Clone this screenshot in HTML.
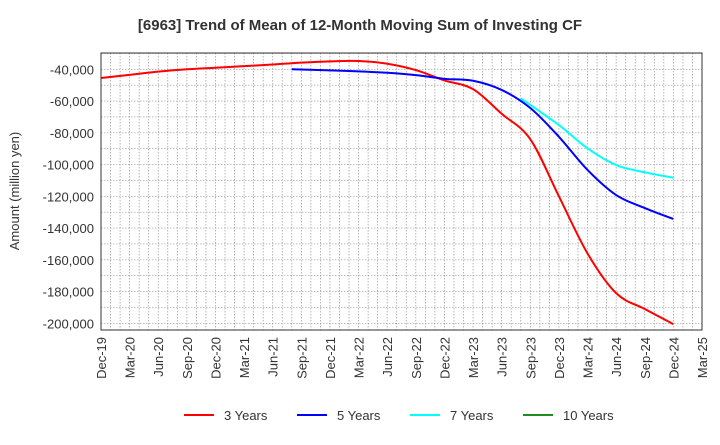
<!DOCTYPE html>
<html><head><meta charset="utf-8"><style>
body{margin:0;background:#fff;font-family:"Liberation Sans",Arial,sans-serif}
svg text{font-family:"Liberation Sans",Arial,sans-serif}
</style></head><body>
<svg id="c" width="720" height="440" xmlns="http://www.w3.org/2000/svg">
<text x="360" y="30" text-anchor="middle" font-size="15" font-weight="bold" fill="#333">[6963]  Trend of Mean of 12-Month Moving Sum of Investing CF</text>
<g id="grid"></g>
<g id="yt"></g>
<g id="xt"></g>
<text transform="translate(19,191) rotate(-90)" text-anchor="middle" font-size="13" fill="#333">Amount (million yen)</text>
<g id="lines"></g>
<rect x="101" y="53" width="601" height="277" fill="none" stroke="#333" stroke-width="1"/>
<g id="legend"></g>
</svg>
<script>
const xLabels=["Dec-19","Mar-20","Jun-20","Sep-20","Dec-20","Mar-21","Jun-21","Sep-21","Dec-21","Mar-22","Jun-22","Sep-22","Dec-22","Mar-23","Jun-23","Sep-23","Dec-23","Mar-24","Jun-24","Sep-24","Dec-24","Mar-25"];
const yTicks=[-40000,-60000,-80000,-100000,-120000,-140000,-160000,-180000,-200000];
// month index from Dec-19
const m3=[0,3,6,9,12,15,18,21,24,27,30,33,36,39,42,45,48,51,54,57,60];
const v3=[-45500,-43500,-41500,-40000,-39000,-38000,-37000,-35800,-35000,-34800,-36500,-40500,-47000,-52500,-68000,-84000,-120000,-156000,-181000,-191000,-200500];
const m5=[20,24,27,30,33,36,39,42,45,48,51,54,57,60];
const v5=[-40000,-40700,-41300,-42200,-43700,-46000,-47200,-53000,-64400,-82500,-103400,-119200,-127400,-134300];
const m7=[44,48,51,54,57,60];
const v7=[-58300,-75100,-89800,-100300,-104900,-108300];
const m10=[];const v10=[];
const L=101,R=702,T=53,B=330;
const X=m=>L+m*(R-L)/63;
const Y=v=>69.3+(-40000-v)*254/160000;
const NS="http://www.w3.org/2000/svg";
function mk(t,a,p){const e=document.createElementNS(NS,t);for(const k in a)e.setAttribute(k,a[k]);p.appendChild(e);return e;}
const g=document.getElementById('grid');
for(let m=1;m<63;m++){const l=mk('line',{x1:X(m),x2:X(m),y1:T,y2:B,stroke:'#999','stroke-width':0.7,'stroke-dasharray':'1.5,1.5'},g);

}
for(let v=-30000;v>=-210000;v-=10000){const y=Y(v);if(y<=T||y>=B)continue;const l=mk('line',{x1:L,x2:R,y1:y,y2:y,stroke:'#999','stroke-width':0.7,'stroke-dasharray':'1.5,1.5'},g);

}
const yt=document.getElementById('yt');
yTicks.forEach(v=>{const t=mk('text',{x:94,y:Y(v)+5,'text-anchor':'end','font-size':13,fill:'#333'},yt);t.textContent=v.toLocaleString('en-US');

});
const xt=document.getElementById('xt');
xLabels.forEach((s,i)=>{const x=X(i*3);const t=mk('text',{transform:`translate(${x+5},337) rotate(-90)`,'text-anchor':'end','font-size':13,fill:'#333'},xt);t.textContent=s;

});
function path(ms,vs){const p=ms.map((m,i)=>[X(m),Y(vs[i])]);if(p.length<2)return '';let d=`M${p[0][0]},${p[0][1]}`;
for(let i=0;i<p.length-1;i++){const p0=p[i-1]||p[i],p1=p[i],p2=p[i+1],p3=p[i+2]||p[i+1];
d+=` C${p1[0]+(p2[0]-p0[0])/6},${p1[1]+(p2[1]-p0[1])/6} ${p2[0]-(p3[0]-p1[0])/6},${p2[1]-(p3[1]-p1[1])/6} ${p2[0]},${p2[1]}`;}return d;}
const lg=document.getElementById('lines');
[[m3,v3,'#ff0000','line-3-years'],[m5,v5,'#0000ff','line-5-years'],[m7,v7,'#00ffff','line-7-years'],[m10,v10,'#228b22','line-10-years']].forEach(s=>{const d=path(s[0],s[1]);if(!d)return;const e=mk('path',{d:d,fill:'none',stroke:s[2],'stroke-width':2},lg);

});
const leg=document.getElementById('legend');
[[184,'3 Years','#ff0000'],[297,'5 Years','#0000ff'],[410,'7 Years','#00ffff'],[523,'10 Years','#228b22']].forEach(e=>{
const gi=mk('g',{},leg);


mk('line',{x1:e[0],x2:e[0]+30,y1:415,y2:415,stroke:e[2],'stroke-width':2},gi);
const t=mk('text',{x:e[0]+40,y:420,'font-size':13,fill:'#333'},gi);t.textContent=e[1];});
</script>
</body></html>
